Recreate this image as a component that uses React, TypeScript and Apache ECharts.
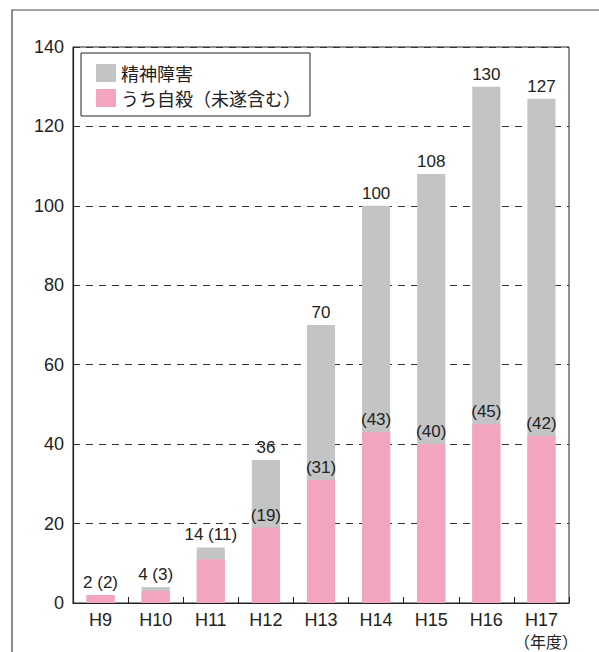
import React, { useEffect, useRef } from "react";
import * as echarts from "echarts";

// Fiscal years (Heisei era)
const years = ["H9", "H10", "H11", "H12", "H13", "H14", "H15", "H16", "H17"];
// Approved mental-disorder compensation cases
const mentalDisorder = [2, 4, 14, 36, 70, 100, 108, 130, 127];
// Of which: suicide (including attempts)
const suicide = [2, 3, 11, 19, 31, 43, 40, 45, 42];
const yTicks = [0, 20, 40, 60, 80, 100, 120, 140];

const GREY = "#c2c4c5";
const PINK = "#f4a5be";
const FONT = "'Liberation Sans', Arial, sans-serif";
const CJK = "'Noto Sans CJK JP', sans-serif";

export default function App() {
  const ref = useRef<HTMLDivElement>(null);

  useEffect(() => {
    if (!ref.current) return;
    const chart = echarts.init(ref.current, undefined, { renderer: "svg" });
    const combinedCount = 3;

    chart.setOption({
      animation: false,
      backgroundColor: "#ffffff",
      textStyle: { fontFamily: FONT },
      grid: {
        left: 73,
        right: 30,
        top: 47,
        bottom: 49,
        show: true,
        borderColor: "#222",
        borderWidth: 1,
      },
      legend: {
        orient: "vertical",
        left: 81,
        top: 53,
        padding: [11, 9, 9, 15],
        itemGap: 7,
        itemWidth: 20,
        itemHeight: 18,
        borderColor: "#222",
        borderWidth: 1,
        backgroundColor: "#fff",
        icon: "rect",
        textStyle: { fontFamily: CJK, fontSize: 18, color: "#222", padding: [0, 0, 0, 0] },
        data: ["精神障害", "うち自殺（未遂含む）"],
      },
      xAxis: {
        type: "category",
        data: years,
        axisLine: { lineStyle: { color: "#222", width: 1.2 } },
        axisTick: { show: true, inside: true, length: 6, lineStyle: { color: "#222" } },
        axisLabel: { fontSize: 18, color: "#222", margin: 8, fontFamily: FONT },
      },
      yAxis: {
        type: "value",
        min: yTicks[0],
        max: yTicks[yTicks.length - 1],
        interval: 20,
        axisLine: { show: true, lineStyle: { color: "#222", width: 1.2 } },
        axisTick: { show: false },
        axisLabel: { fontSize: 18, color: "#222", margin: 9, fontFamily: FONT },
        splitLine: {
          show: true,
          lineStyle: { color: "#333", type: [7, 6], width: 1 },
        },
      },
      series: [
        {
          name: "精神障害",
          type: "bar",
          data: mentalDisorder,
          barWidth: "51%",
          itemStyle: { color: GREY },
          label: {
            show: true,
            position: "top",
            distance: 4,
            fontSize: 17,
            color: "#222",
            fontFamily: FONT,
            formatter: (p: any) =>
              p.dataIndex < combinedCount
                ? `${p.value} (${suicide[p.dataIndex]})`
                : `${p.value}`,
          },
        },
        {
          name: "うち自殺（未遂含む）",
          type: "bar",
          data: suicide.map((v, i) => ({
            value: v,
            label: { show: i >= combinedCount },
          })),
          barWidth: "51%",
          barGap: "-100%",
          itemStyle: { color: PINK },
          label: {
            show: true,
            position: "top",
            distance: 4,
            fontSize: 17,
            color: "#222",
            fontFamily: FONT,
            formatter: (p: any) => `(${p.value})`,
          },
        },
      ],
      graphic: [
        {
          type: "polyline",
          shape: { points: [[12, 652], [12, 10], [599, 10]] },
          style: { stroke: "#444", lineWidth: 1.2, fill: "none" },
          silent: true,
        },
        {
          type: "text",
          x: 514,
          y: 633,
          style: { text: "（年度）", fontSize: 16, fill: "#222", fontFamily: CJK, textVerticalAlign: "top" },
          silent: true,
        },
      ],
    });

    return () => chart.dispose();
  }, []);

  return (
    <div
      ref={ref}
      style={{ position: "fixed", left: 0, top: 0, width: 599, height: 652 }}
    />
  );
}
